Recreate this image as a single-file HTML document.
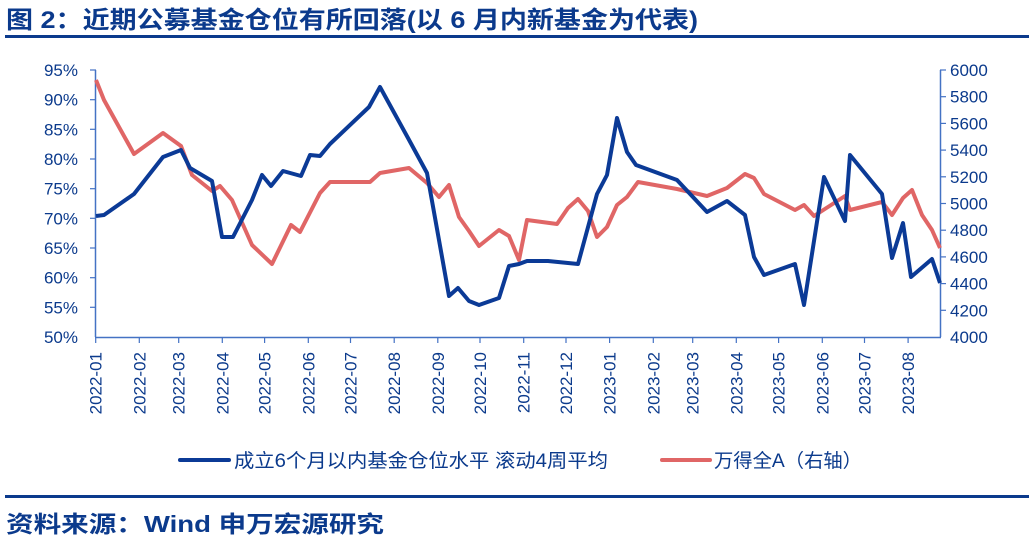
<!DOCTYPE html>
<html><head><meta charset="utf-8"><style>
body{margin:0;background:#fff;width:1030px;height:552px;overflow:hidden;font-family:"Liberation Sans","Noto Sans CJK SC",sans-serif;}
</style></head><body>
<svg width="1030" height="552" xmlns="http://www.w3.org/2000/svg" style="position:absolute;left:0;top:0">
<text x="6" y="28" font-size="24" font-weight="bold" fill="#0b3a8c" textLength="692" lengthAdjust="spacingAndGlyphs">图 2：近期公募基金仓位有所回落(以 6 月内新基金为代表)</text>
<rect x="5" y="35" width="1024" height="3" fill="#0b3a8c"/>
<g stroke="#4472c4" stroke-width="1.5" fill="none">
<line x1="95.5" y1="70" x2="95.5" y2="337"/>
<line x1="940.5" y1="70" x2="940.5" y2="337"/>
<line x1="95" y1="337.5" x2="941" y2="337.5"/>
</g>
<g stroke="#4472c4" stroke-width="1.2">
<line x1="90" y1="70" x2="96" y2="70"/><line x1="90" y1="99.7" x2="96" y2="99.7"/><line x1="90" y1="129.3" x2="96" y2="129.3"/><line x1="90" y1="159" x2="96" y2="159"/><line x1="90" y1="188.7" x2="96" y2="188.7"/><line x1="90" y1="218.3" x2="96" y2="218.3"/><line x1="90" y1="248" x2="96" y2="248"/><line x1="90" y1="277.7" x2="96" y2="277.7"/><line x1="90" y1="307.3" x2="96" y2="307.3"/>
<line x1="940" y1="70" x2="946" y2="70"/><line x1="940" y1="96.7" x2="946" y2="96.7"/><line x1="940" y1="123.4" x2="946" y2="123.4"/><line x1="940" y1="150.1" x2="946" y2="150.1"/><line x1="940" y1="176.8" x2="946" y2="176.8"/><line x1="940" y1="203.5" x2="946" y2="203.5"/><line x1="940" y1="230.2" x2="946" y2="230.2"/><line x1="940" y1="256.9" x2="946" y2="256.9"/><line x1="940" y1="283.6" x2="946" y2="283.6"/><line x1="940" y1="310.3" x2="946" y2="310.3"/>
</g>
<g font-size="17" fill="#0b3a8c" text-anchor="end">
<text x="78" y="76">95%</text><text x="78" y="105.7">90%</text><text x="78" y="135.3">85%</text><text x="78" y="165">80%</text><text x="78" y="194.7">75%</text><text x="78" y="224.3">70%</text><text x="78" y="254">65%</text><text x="78" y="283.7">60%</text><text x="78" y="313.3">55%</text><text x="78" y="343">50%</text>
</g>
<g font-size="17" fill="#0b3a8c">
<text x="950" y="76">6000</text><text x="950" y="102.7">5800</text><text x="950" y="129.4">5600</text><text x="950" y="156.1">5400</text><text x="950" y="182.8">5200</text><text x="950" y="209.5">5000</text><text x="950" y="236.2">4800</text><text x="950" y="262.9">4600</text><text x="950" y="289.6">4400</text><text x="950" y="316.3">4200</text><text x="950" y="343">4000</text>
</g>
<g id="xt" font-size="17" fill="#0b3a8c" text-anchor="end"></g>
<polyline fill="none" stroke="#e06666" stroke-width="4" stroke-linejoin="round" points="96,80 104,100 134,154 163,133 181,146 192,175 212,191 220,186 232,200 252,245 272,264 291,225 300,232 320,193 330,182 370,182 380,173 409,168 427,183 439,197 449,185 459,217 469,231 479,246 499,230 509,236 519,260 527,220 557,224 568,208 578,199 588,211 597,237 607,227 617,205 627,197 638,182 677,189 707,196 727,188 745,174 754,178 764,194 795,210 804,205 814,216 845,196 850,210 882,202 892,215 903,198 912,190 922,215 932,230 940,248"/>
<polyline fill="none" stroke="#0b3a96" stroke-width="4" stroke-linejoin="round" points="96,216 104,215 134,194 163,157 181,150 190,168 212,181 222,237 233,237 252,200 262,175 271,186 283,171 301,176 310,155 320,156 330,144 369,107 380,87 408,138 427,173 449,296 458,288 469,301 479,305 499,298 509,266 519,264 527,261 548,261 568,263 578,264 597,194 607,175 617,118 627,152 636,165 677,180 707,212 727,201 745,215 754,257 764,275 795,264 804,305 824,177 845,221 850,155 882,194 892,258 903,223 911,277 932,259 940,283"/>
<line x1="180" y1="460" x2="229" y2="460" stroke="#0b3a96" stroke-width="4" stroke-linecap="round"/>
<text x="234" y="467" font-size="19" fill="#0b3a8c" textLength="374" lengthAdjust="spacingAndGlyphs">成立6个月以内基金仓位水平 滚动4周平均</text>
<line x1="662" y1="460" x2="710" y2="460" stroke="#e06666" stroke-width="4" stroke-linecap="round"/>
<text x="714" y="467" font-size="19" fill="#0b3a8c" textLength="148" lengthAdjust="spacingAndGlyphs">万得全A（右轴）</text>
<rect x="5" y="495" width="1024" height="3" fill="#0b3a8c"/>
<text x="6" y="532" font-size="23" font-weight="bold" fill="#0b3a8c" textLength="378" lengthAdjust="spacingAndGlyphs">资料来源：Wind  申万宏源研究</text>
</svg>
<script>
var xs=[95.7,139.3,178.7,222.3,264.6,308.3,350.5,394.2,437.8,480,523.7,566,609.6,653.3,692.7,736.3,778.6,822.3,864.5,908.1];
var g=document.getElementById('xt'),s='';
for(var i=0;i<20;i++){var y=i<12?2022:2023,m=i<12?i+1:i-11;var l=y+'-'+(m<10?'0'+m:m);
s+='<line x1="'+xs[i]+'" y1="337" x2="'+xs[i]+'" y2="343" stroke="#4472c4" stroke-width="1.2"/>';
s+='<text transform="translate('+(xs[i]+6)+',352) rotate(-90)">'+l+'</text>';}
g.innerHTML=s;
</script>
</body></html>
